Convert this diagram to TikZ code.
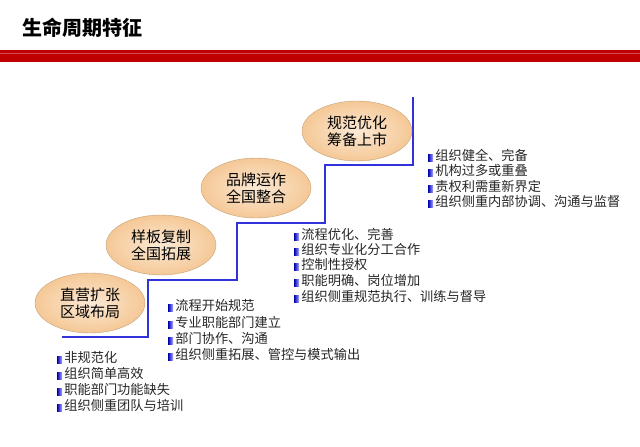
\documentclass[tikz,border=0pt]{standalone}
\usepackage{fontspec}
\setmainfont{Noto Sans CJK SC}
\usetikzlibrary{shapes.geometric}
\definecolor{bar}{RGB}{192,0,0}
\definecolor{stair}{RGB}{50,50,220}
\definecolor{ell}{RGB}{245,200,150}
\tikzset{
 stage/.style={ellipse,draw=ell!80!black,inner color=ell!40!white,outer color=ell,minimum width=110pt,minimum height=60pt,align=center,font=\fontsize{15}{17}\selectfont,inner sep=0pt},
 item/.style={anchor=west,font=\fontsize{13.2}{14}\selectfont,inner sep=0pt,text=black!85},
}
\newcommand{\bl}{\tikz[baseline=-1pt]\fill[left color=blue!70!black,right color=blue!30!white](0,-2pt) rectangle (5pt,5pt);\,}
\begin{document}
\begin{tikzpicture}[x=1pt,y=-1pt]
\useasboundingbox (0,0) rectangle (640,447);
\node[anchor=west,font=\fontsize{20}{22}\bfseries\selectfont,inner sep=0pt] (title) at (22,28) {生命周期特征};
\fill[bar] (0,50) rectangle (640,62);
\draw[bar!70!white,line width=0.6] (0,53) -- (640,53);
\coordinate (s0) at (62,337);
\coordinate (s5) at (413,97);
\draw[stair,line width=2.2] (s0) -- (148,337) -- (148,280) -- (237,280) -- (237,223) -- (325,223) -- (325,165) -- (413,165) -- (s5);
\node[stage] (e1) at (90,303) {直营扩张\\区域布局};
\node[stage] (e2) at (161,245) {样板复制\\全国拓展};
\node[stage] (e3) at (256,188) {品牌运作\\全国整合};
\node[stage] (e4) at (357,131) {规范优化\\筹备上市};
\foreach \t [count=\i] in {非规范化,组织简单高效,职能部门功能缺失,组织侧重团队与培训}
  \node[item] (a\i) at (57,{341+16*\i}) {\bl\t};
\foreach \t [count=\i] in {流程开始规范,专业职能部门建立,部门协作、沟通,组织侧重拓展、管控与模式输出}
  \node[item] (b\i) at (168,{290+16*\i}) {\bl\t};
\foreach \t [count=\i] in {流程优化、完善,组织专业化分工合作,控制性授权,职能明确、岗位增加,组织侧重规范执行、训练与督导}
  \node[item] (c\i) at (294,{218.5+15.5*\i}) {\bl\t};
\foreach \t [count=\i] in {组织健全、完备,机构过多或重叠,责权利需重新界定,组织侧重内部协调、沟通与监督}
  \node[item] (d\i) at (428,{139.5+15.5*\i}) {\bl\t};
\end{tikzpicture}
\end{document}
